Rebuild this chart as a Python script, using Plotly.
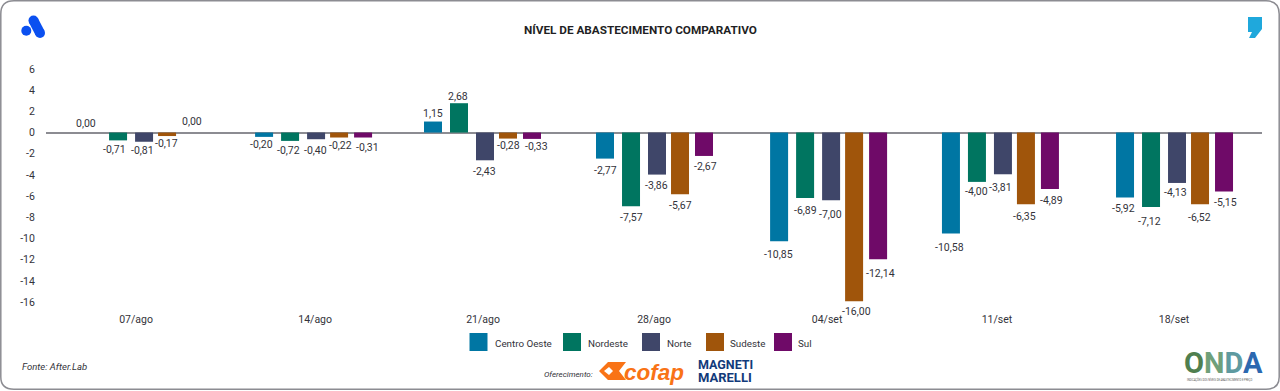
import plotly.graph_objects as go

dates = ["07/ago", "14/ago", "21/ago", "28/ago", "04/set", "11/set", "18/set"]
series = ["Centro Oeste", "Nordeste", "Norte", "Sudeste", "Sul"]
colors = ["#0076A3", "#007560", "#3F4669", "#A0550B", "#6F0A68"]

centro_oeste = [0, -0.41, 1.04, -2.46, -10.26, -9.54, -6.14]
nordeste = [-0.74, -0.79, 2.77, -6.96, -6.18, -4.66, -7.03]
norte = [-0.87, -0.63, -2.62, -3.97, -6.39, -3.94, -4.76]
sudeste = [-0.33, -0.47, -0.57, -5.83, -15.93, -6.77, -6.77]
sul = [0, -0.47, -0.60, -2.21, -11.96, -5.33, -5.57]

lab_centro = ["0,00", "-0,20", "1,15", "-2,77", "-10,85", "-10,58", "-5,92"]
lab_nordeste = ["-0,71", "-0,72", "2,68", "-7,57", "-6,89", "-4,00", "-7,12"]
lab_norte = ["-0,81", "-0,40", "-2,43", "-3,86", "-7,00", "-3,81", "-4,13"]
lab_sudeste = ["-0,17", "-0,22", "-0,28", "-5,67", "-16,00", "-6,35", "-6,52"]
lab_sul = ["0,00", "-0,31", "-0,33", "-2,67", "-12,14", "-4,89", "-5,15"]

ytick_vals = [6, 4, 2, 0, -2, -4, -6, -8, -10, -12, -14, -16]
ytick_text = ["6", "4", "2", "0", "-2", "-4", "-6", "-8", "-10", "-12", "-14", "-16"]

# layout constants
W, H = 1280, 391
ML, MR, MT, MB = 46, 18, 69, 89
FONT = "Roboto"
TXT = "#33333a"
STEP = 172.2
group_pos = [0, 0.999, 1.980, 2.979, 3.990, 4.988, 5.999]
tick_pos = [-0.032, 1.008, 1.983, 2.976, 3.981, 4.968, 5.996]
bar_offsets_px = [-58.5, -32.5, -6.5, 16.5, 40.5]
nudge_x = [[-6, -3, 0, 0, -1, -1, -2], [-4, -2, -1, 0, 0, 0, -2], [-2, -1, -1, -1, -1, -2, -2],
           [-1, 1, 0, 0, 2, -1, -1], [1, 4, 4, 1, 2, 2, 1]]
label_gap = [[9, 8, 8, 12, 13, 14, 11], [9, 10, 7, 11, 12, 10, 14], [9, 11, 11, 11, 14, 13, 10],
             [7, 8, 7, 11, 10, 12, 13], [11, 10, 8, 11, 14, 11, 11]]

values = [centro_oeste, nordeste, norte, sudeste, sul]
labels = [lab_centro, lab_nordeste, lab_norte, lab_sudeste, lab_sul]

PW, PH = W - ML - MR, H - MT - MB
def px(x): return (x - ML) / PW
def py(y): return 1 - (y - MT) / PH

fig = go.Figure()
shapes, anns = [], []
for name, col, v, lab, off, nx, gap in zip(series, colors, values, labels, bar_offsets_px, nudge_x, label_gap):
    fig.add_bar(x=group_pos, y=v, name=name, marker_color=col, marker_line_width=0,
                width=18 / STEP, offset=off / STEP, cliponaxis=False)
    for g, val, t, dx, dy in zip(group_pos, v, lab, nx, gap):
        anns.append(dict(x=g + (off + 9) / STEP, y=val, xref="x", yref="y", text=t, showarrow=False,
                         xshift=dx, yshift=dy if val >= 0 else -dy, xanchor="center", yanchor="middle",
                         font=dict(family=FONT, size=10.5, color=TXT)))

def note(x, y, text, size=11, color=TXT, anchor="left", family=FONT):
    anns.append(dict(x=px(x), y=py(y), xref="paper", yref="paper", text=text, showarrow=False,
                     xanchor=anchor, yanchor="middle", xshift=-1, font=dict(family=family, size=size, color=color)))

def poly(pts, fill):
    d = "M " + " L ".join(f"{px(a)} {py(b)}" for a, b in pts) + " Z"
    shapes.append(dict(type="path", xref="paper", yref="paper", path=d, fillcolor=fill, line_width=0))

def disc(cx, cy, r, fill):
    shapes.append(dict(type="circle", xref="paper", yref="paper", x0=px(cx - r), x1=px(cx + r),
                       y0=py(cy + r), y1=py(cy - r), fillcolor=fill, line_width=0))

# legend
sw_x = [469.5, 563, 642, 706, 774]
tx_x = [494, 587, 666, 729, 797]
for name, col, sx, tx in zip(series, colors, sw_x, tx_x):
    shapes.append(dict(type="rect", xref="paper", yref="paper", x0=px(sx), x1=px(sx + 18), y0=py(351), y1=py(333),
                       fillcolor=col, line_width=0))
    note(tx, 343, name, 9.8)

# frame
shapes.append(dict(type="path", xref="paper", yref="paper",
    path=f"M {px(14)} {py(.8)} L {px(1266)} {py(.8)} Q {px(1279.2)} {py(.8)} {px(1279.2)} {py(14)} L {px(1279.2)} {py(377)} "
         f"Q {px(1279.2)} {py(389.2)} {px(1266)} {py(389.2)} L {px(14)} {py(389.2)} Q {px(.8)} {py(389.2)} {px(.8)} {py(377)} "
         f"L {px(.8)} {py(14)} Q {px(.8)} {py(.8)} {px(14)} {py(.8)} Z",
    line=dict(color="#8c8c92", width=1.5), fillcolor="rgba(0,0,0,0)"))

# blue A logo
shapes.append(dict(type="line", xref="paper", yref="paper", x0=px(33.5), y0=py(20.5), x1=px(40), y1=py(33),
                   line=dict(color="#0B50F0", width=10)))
disc(33.5, 20.5, 5, "#0B50F0")
disc(40, 33, 5, "#0B50F0")
disc(26.3, 30.7, 5, "#0B50F0")
# quote logo
poly([(1248, 17), (1262, 17), (1262, 29), (1255, 38), (1249, 38), (1252, 32), (1248, 32)], "#1FA8DC")
# cofap mark
poly([(599, 371), (608, 362), (626, 362), (619, 371), (626, 380), (608, 380)], "#F97316")
poly([(604, 371), (609, 367), (613, 371), (609, 375)], "white")

note(523, 30, "<b>NÍVEL DE ABASTECIMENTO COMPARATIVO</b>", 11.75, "#1f1f24")
note(21, 366, "<i>Fonte: After.Lab</i>", 9.5)
note(543, 374, "<i>Oferecimento:</i>", 8)
note(623, 372, "<b><i>cofap</i></b>", 22.5, "#F97316", family="Liberation Sans")
note(697, 364, "<b>MAGNETI</b>", 12.5, "#123A7A")
note(697, 377, "<b>MARELLI</b>", 13, "#123A7A")
onda = "".join(f'<span style="color:{c}">{ch}</span>' for ch, c in zip("ONDA", ["#4F7F4F", "#6FA07A", "#5E9AA0", "#2C68B0"]))
note(1183, 363, f"<b>{onda}</b>", 29)
note(1186, 379, "INDICAÇÕES DOS NÍVEIS DE ABASTECIMENTO E PREÇO", 2.6, "#555555")

fig.update_layout(
    width=W, height=H, autosize=False, paper_bgcolor="white", plot_bgcolor="white",
    margin=dict(l=ML, r=MR, t=MT, b=MB), showlegend=False, barmode="overlay",
    font=dict(family=FONT, size=10.5, color=TXT), shapes=shapes, annotations=anns,
    xaxis=dict(range=[-0.555, 6.507], tickvals=tick_pos, ticktext=dates, showgrid=False,
               zeroline=False, showline=False, ticks="outside", ticklen=7, tickcolor="rgba(0,0,0,0)",
               tickfont=dict(family=FONT, size=10.5, color=TXT)),
    yaxis=dict(range=[-16, 6], tickvals=ytick_vals, ticktext=ytick_text, showgrid=False, zeroline=True,
               zerolinecolor="#8c8c92", zerolinewidth=1.5, showline=False, ticks="outside", ticklen=8,
               tickcolor="rgba(0,0,0,0)", tickfont=dict(family=FONT, size=10.5, color=TXT)),
)
fig.write_html("out.html", config={"displayModeBar": False},
               post_script="document.body.style.margin='0';")
